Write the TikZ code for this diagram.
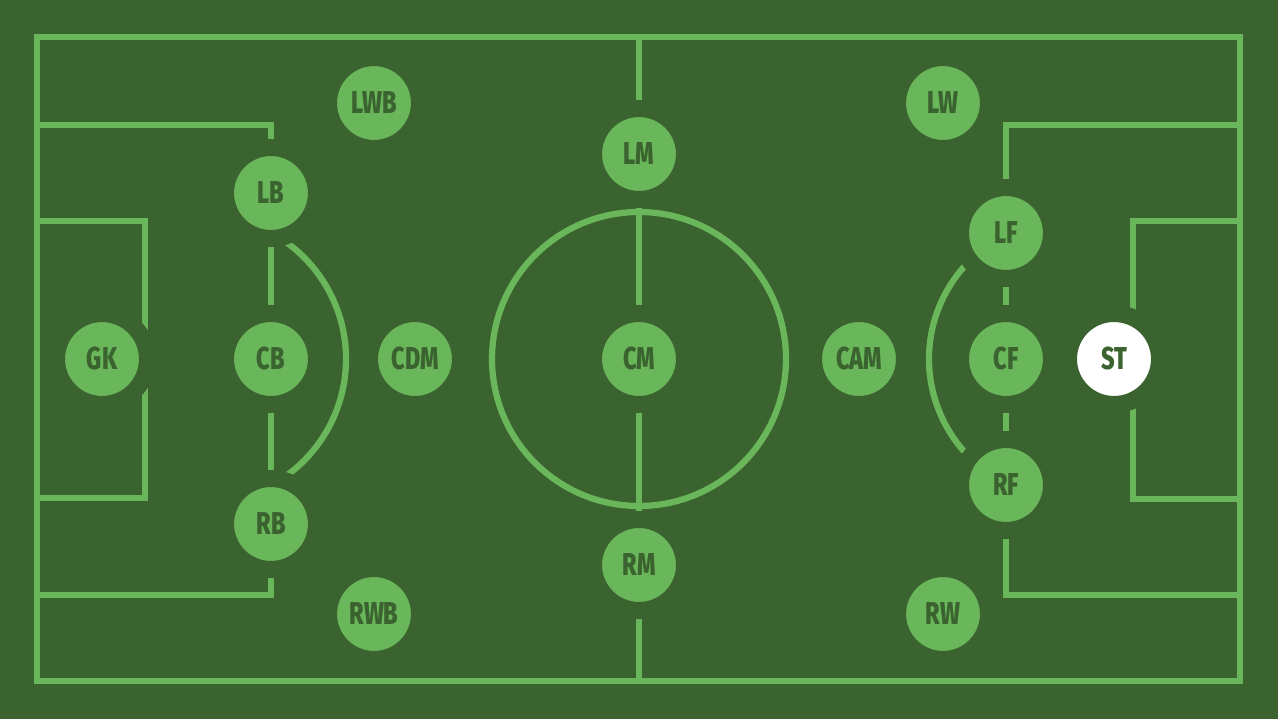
\documentclass[tikz,border=0pt]{standalone}
\usepackage{fontspec}
\newfontfamily\posfont{Fira Sans}[BoldFont={Fira Sans ExtraBold}, FakeStretch=0.74]
\definecolor{pitch}{RGB}{59, 99, 47}
\definecolor{chalk}{RGB}{106, 182, 90}

\tikzset{
  player/.style = {circle, draw=pitch, fill=chalk, line width=0.34cm, minimum size=1.82cm,
                   inner sep=0pt, text=pitch, font=\posfont\bfseries\fontsize{18}{18}\selectfont},
  striker/.style = {player, fill=white}
}

\begin{document}
\begin{tikzpicture}[x=0.02cm, y=-0.02cm, line width=0.125cm]
    \fill[pitch] (0,0) rectangle (1278,719);
    \useasboundingbox (0,0) rectangle (1278,719);

    \begin{scope}[draw=chalk]
      \draw (37,37) rectangle (1240,681);
      \draw (639,37) -- (639,681);
      \draw (639,359) circle (147);

      \draw (37,125) -- (271,125) -- (271,595) -- (37,595);
      \draw (37,221) -- (145,221) -- (145,498) -- (37,498);
      \draw (202,359) ++(60:144) arc[start angle=60, end angle=-60, radius=144];

      \draw (1240,125) -- (1006,125) -- (1006,595) -- (1240,595);
      \draw (1240,221) -- (1133,221) -- (1133,499) -- (1240,499);
      \draw (1068,359) ++(120:139) arc[start angle=120, end angle=240, radius=139];
    \end{scope}

    \node[player] (gk)  at (102,359) {GK};
    \node[player] (lb)  at (271,193) {LB};
    \node[player] (cb)  at (271,359) {CB};
    \node[player] (rb)  at (271,524) {RB};
    \node[player] (lwb) at (374,103) {LWB};
    \node[player] (rwb) at (374,614) {RWB};
    \node[player] (cdm) at (415,359) {CDM};

    \node[player] (lm)  at (639,154) {LM};
    \node[player] (cm)  at (639,359) {CM};
    \node[player] (rm)  at (639,565) {RM};

    \node[player] (cam) at (859,359) {CAM};
    \node[player] (lw)  at (943,103) {LW};
    \node[player] (rw)  at (943,614) {RW};
    \node[player] (lf)  at (1006,233) {LF};
    \node[player] (cf)  at (1006,359) {CF};
    \node[player] (rf)  at (1006,485) {RF};
    \node[striker] (st) at (1114,359) {ST};
\end{tikzpicture}
\end{document}
